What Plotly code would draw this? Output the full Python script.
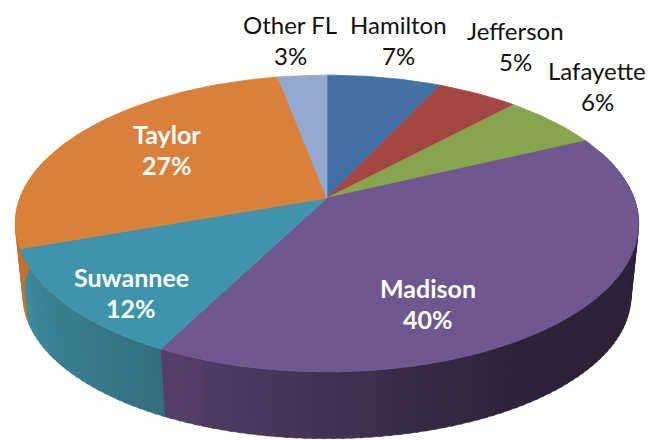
import math
import plotly.graph_objects as go

# ---- data ----
counties = ["Hamilton", "Jefferson", "Lafayette", "Madison", "Suwannee", "Taylor", "Other FL"]
shares = [7.0, 5.0, 6.0, 39.6, 12.0, 27.4, 3.0]

# ---- style ----
top_colors = ["#4470a6", "#a64644", "#87a54f", "#6f578f", "#3f94ac", "#d9813c", "#93a9cf"]
wall_near = ["#3a5f8d", "#8d3b3a", "#728c43", "#55406a", "#3f8ca0", "#c0722f", "#7d90b0"]
wall_far = ["#3a5f8d", "#8d3b3a", "#728c43", "#2d2238", "#33707f", "#c0722f", "#7d90b0"]
label_white = [False, False, False, True, True, True, False]
label_x = [398, 515, 597, 428, 131, 167, 290]
label_y = [24, 30, 70, 288, 277, 134, 24]
LINE_GAP = 31
FONT = "Lato, Carlito, Calibri, sans-serif"

# ---- projection of the disc ----
CX, CY, B, A, P = 327.0, 198.0, 307.0, 144.0, 0.172
S_X, S_Y, CY2 = 0.975, 0.958, 272.0


def rim(deg, bottom=False):
    t = math.radians(deg)
    u, v = math.sin(t), -math.cos(t)
    w = 1 - P * v
    if bottom:
        return CX + S_X * B * u / w, CY2 + S_Y * A * v / w
    return CX + B * u / w, CY + A * v / w


def blend(c1, c2, f):
    a = [int(c1[i:i + 2], 16) for i in (1, 3, 5)]
    b = [int(c2[i:i + 2], 16) for i in (1, 3, 5)]
    return "#%02x%02x%02x" % tuple(round(x + (y - x) * f) for x, y in zip(a, b))


def arc(a0, a1, step=1.0, bottom=False):
    n = max(2, int(abs(a1 - a0) / step) + 1)
    return [rim(a0 + (a1 - a0) * i / (n - 1), bottom) for i in range(n)]


fig = go.Figure()


def poly(pts, color, width=1.0):
    fig.add_trace(go.Scatter(
        x=[p[0] for p in pts] + [pts[0][0]],
        y=[p[1] for p in pts] + [pts[0][1]],
        mode="lines", fill="toself", fillcolor=color,
        line=dict(color=color, width=width),
        hoverinfo="skip", showlegend=False,
    ))


total = sum(shares)
edges = [0.0]
for s in shares:
    edges.append(edges[-1] + 360.0 * s / total)

# walls
BAND = 1.5
for i in range(len(shares)):
    a0, a1 = edges[i], edges[i + 1]
    lo = max(a0, 70.0) if a0 < 110 else a0
    hi = min(a1, 285.0)
    if hi <= lo:
        continue
    n = max(1, int((hi - lo) / BAND))
    for k in range(n):
        s0 = lo + (hi - lo) * k / n
        s1 = lo + (hi - lo) * (k + 1) / n
        if counties[i] == "Madison":
            f = min(1.0, (a1 - s0) / 60.0)
        else:
            f = 1 - (s0 - lo) / max(hi - lo, 1)
        col = blend(wall_near[i], wall_far[i], f)
        # each band overlaps the next one so no seam shows
        poly(arc(s0, s1 + 0.6) + arc(s1 + 0.6, s0, bottom=True), col, width=0.5)

# top faces
for i in range(len(shares)):
    poly([(CX, CY)] + arc(edges[i], edges[i + 1]), top_colors[i], width=0.8)

# labels
anns = []
for i, name in enumerate(counties):
    color = "#ffffff" if label_white[i] else "#111111"
    size = 25 if label_white[i] else 24
    pct = f"{round(shares[i])}%"
    for j, line in enumerate((name, pct)):
        text = f"<b>{line}</b>" if label_white[i] else line
        anns.append(dict(x=label_x[i], y=label_y[i] + j * LINE_GAP, text=text,
                         showarrow=False, xanchor="center", yanchor="middle",
                         font=dict(family=FONT, size=size, color=color)))

fig.update_layout(
    width=659, height=440, margin=dict(l=0, r=0, t=0, b=0),
    paper_bgcolor="white", plot_bgcolor="white", showlegend=False,
    xaxis=dict(range=[0, 659], visible=False, fixedrange=True),
    yaxis=dict(range=[440, 0], visible=False, fixedrange=True),
    annotations=anns,
)
fig.write_html("out.html", config={"displayModeBar": False},
               post_script="document.body.style.margin='0';document.body.style.overflow='hidden';")
